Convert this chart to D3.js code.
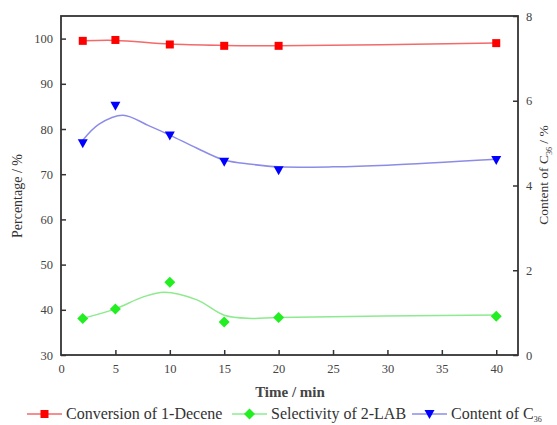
<!DOCTYPE html>
<html>
<head>
<meta charset="utf-8">
<script src="https://cdn.jsdelivr.net/npm/d3@7"></script>
<style>
  body { margin: 0; background: #fff; }
  svg text { font-family: "Liberation Serif", "Times New Roman", "DejaVu Serif", serif !important; }
  .tick text { fill: #444; font-size: 12.5px; }
</style>
</head>
<body>
<div class="chart"></div>
<script>
'use strict'

// Measured data (Time / min).
const times = [2, 5, 10, 15, 20, 40];
const conversion = [99.5, 99.7, 98.7, 98.4, 98.4, 99.0];     // left axis, %
const selectivity = [38.1, 40.2, 46.1, 37.3, 38.3, 38.6];    // left axis, %
const content = [5.0, 5.88, 5.18, 4.56, 4.36, 4.6];          // right axis, %

// Fitted curves.
const convFitX = [2, 5, 10, 15, 20, 40];
const convFitY = [99.5, 99.6, 98.8, 98.5, 98.4, 99.0];
const selFitX = [2, 5, 7.5, 9.5, 12.5, 15, 17.5, 20, 40];
const selFitY = [38.1, 40.2, 42.8, 43.9, 42.2, 38.8, 38.1, 38.3, 38.85];
const contFitX = [2, 3.5, 5.7, 8, 10, 12.5, 15, 17.5, 20, 25, 30, 40];
const contFitY = [5.07, 5.45, 5.66, 5.42, 5.19, 4.88, 4.6, 4.5, 4.44, 4.44, 4.48, 4.62];

const xTicks = [0, 5, 10, 15, 20, 25, 30, 35, 40];
const yLeftTicks = [30, 40, 50, 60, 70, 80, 90, 100];
const yRightTicks = [0, 2, 4, 6, 8];

const width = 557, height = 425;
const margin = {top: 16, right: 39, bottom: 70, left: 61};

const svg = d3.select('.chart').append('svg')
    .attr('width', width)
    .attr('height', height);

const x = d3.scaleLinear().domain([0, 42]).range([margin.left, width - margin.right]);
const yL = d3.scaleLinear().domain([30, 105]).range([height - margin.bottom, margin.top]);
const yR = d3.scaleLinear().domain([0, 8]).range([height - margin.bottom, margin.top]);

const axisColor = '#333';

// Axes with inward ticks.
const gx = svg.append('g')
    .attr('transform', `translate(0, ${height - margin.bottom})`)
    .call(d3.axisBottom(x).tickValues(xTicks).tickSizeInner(-5).tickSizeOuter(0).tickPadding(9));
const gl = svg.append('g')
    .attr('transform', `translate(${margin.left}, 0)`)
    .call(d3.axisLeft(yL).tickValues(yLeftTicks).tickSizeInner(-5).tickSizeOuter(0).tickPadding(8));
const gr = svg.append('g')
    .attr('transform', `translate(${width - margin.right}, 0)`)
    .call(d3.axisRight(yR).tickValues(yRightTicks).tickSizeInner(-5).tickSizeOuter(0).tickPadding(8));

[gx, gl, gr].forEach(g => {
    g.attr('font-family', null);
    g.select('.domain').remove();
    g.selectAll('.tick line').attr('stroke', axisColor).attr('stroke-width', 1.5);
});
gx.selectAll('.tick').filter(d => d === 0).select('line').remove();

// Frame.
svg.append('rect')
    .attr('x', margin.left)
    .attr('y', margin.top)
    .attr('width', width - margin.left - margin.right)
    .attr('height', height - margin.top - margin.bottom)
    .attr('fill', 'none')
    .attr('stroke', axisColor)
    .attr('stroke-width', 1.8);

// Series definitions.
const series = [
    {name: 'Conversion of 1-Decene', y: yL, vals: conversion, fx: convFitX, fy: convFitY,
     line: '#f26a6a', fill: '#ff0000', shape: 'square'},
    {name: 'Selectivity of 2-LAB', y: yL, vals: selectivity, fx: selFitX, fy: selFitY,
     line: '#8eea8e', fill: '#22ee22', shape: 'diamond'},
    {name: 'Content of C', y: yR, vals: content, fx: contFitX, fy: contFitY,
     line: '#8c8ce8', fill: '#0000ff', shape: 'triangle'}
];

function marker(g, shape, fill) {
    if (shape === 'square') {
        g.append('rect').attr('x', -4).attr('y', -4).attr('width', 8).attr('height', 8).attr('fill', fill);
    } else if (shape === 'diamond') {
        g.append('path').attr('d', 'M0,-5.5L5.5,0L0,5.5L-5.5,0Z').attr('fill', fill);
    } else {
        g.append('path').attr('d', 'M-5,-4L5,-4L0,5Z').attr('fill', fill);
    }
}

series.forEach(s => {
    const line = d3.line()
        .x(d => x(d[0]))
        .y(d => s.y(d[1]))
        .curve(d3.curveCatmullRom.alpha(0.5));
    svg.append('path')
        .datum(s.fx.map((v, i) => [v, s.fy[i]]))
        .attr('d', line)
        .attr('fill', 'none')
        .attr('stroke', s.line)
        .attr('stroke-width', 1.5);

    svg.append('g')
        .selectAll('g')
        .data(times.map((t, i) => [t, s.vals[i]]))
        .join('g')
        .attr('transform', d => `translate(${x(d[0])}, ${s.y(d[1])})`)
        .each(function() { marker(d3.select(this), s.shape, s.fill); });
});

// Axis titles.
svg.append('text')
    .attr('transform', `translate(22, 196) rotate(-90)`)
    .attr('text-anchor', 'middle')
    .attr('font-size', 14)
    .attr('fill', '#333')
    .text('Percentage / %');

const rt = svg.append('text')
    .attr('transform', `translate(548, 175) rotate(-90)`)
    .attr('text-anchor', 'middle')
    .attr('font-size', 13.5)
    .attr('fill', '#333');
rt.append('tspan').text('Content of C');
rt.append('tspan').attr('font-size', 8).attr('dy', 4).text('36');
rt.append('tspan').attr('dy', -4).text(' / %');

svg.append('text')
    .attr('x', 290)
    .attr('y', 397)
    .attr('text-anchor', 'middle')
    .attr('font-size', 15)
    .attr('font-weight', 'bold')
    .attr('fill', '#444')
    .text('Time / min');

// Legend.
const legendX = [27, 232, 412];
series.forEach((s, i) => {
    const g = svg.append('g').attr('transform', `translate(${legendX[i]}, 414)`);
    g.append('line').attr('x1', 0).attr('x2', 35).attr('stroke', s.line).attr('stroke-width', 1.5);
    const m = g.append('g').attr('transform', 'translate(17.5, 0)');
    marker(m, s.shape, s.fill);
    const t = g.append('text').attr('x', 39).attr('y', 5).attr('font-size', 16).attr('fill', '#333').text(s.name);
    if (i === 2) t.append('tspan').attr('font-size', 8).attr('dy', 3).text('36');
});
</script>
</body>
</html>
